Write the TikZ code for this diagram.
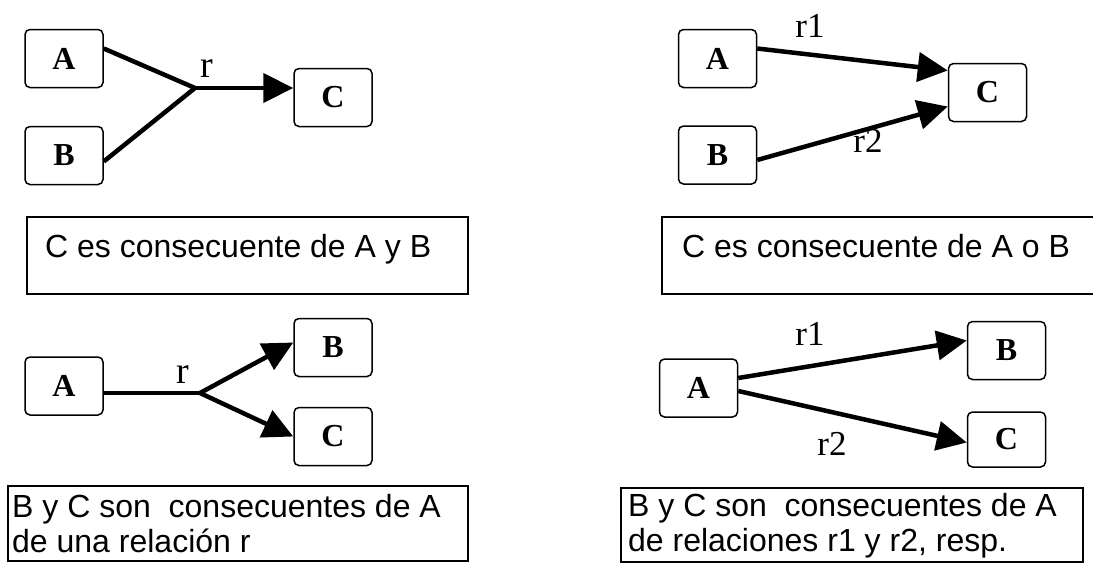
\documentclass[tikz,border=0pt]{standalone}
\usepackage{fontspec}
\setmainfont{Liberation Serif}
\setsansfont{Liberation Sans}
\usetikzlibrary{arrows.meta,positioning}

\tikzset{
  caja/.style={draw,rounded corners=5pt,line width=1.5pt,inner sep=0pt,
               minimum width=78pt,minimum height=58pt,
               font=\fontsize{32}{32}\selectfont\bfseries},
  nota/.style={draw,line width=1.5pt,inner sep=0pt,anchor=north west},
  texto/.style={inner sep=0pt,align=left,
               font=\sffamily\fontsize{32}{35}\selectfont},
  etiq/.style={inner sep=0pt,anchor=base,font=\fontsize{35}{35}\selectfont},
  linea/.style={line width=4.5pt},
  flecha/.style={line width=4.5pt,-{Triangle[length=30pt,width=29pt]}}
}

\begin{document}
\begin{tikzpicture}[x=1pt,y=-1pt]
      \clip (0,0) rectangle (1093,563);
      % y: A y B -> C
      \node[caja] (a1) at (64,58.5) {A};
      \node[caja] (b1) at (64,155.5) {B};
      \node[caja] (c1) at (333,97.5) {C};
      \coordinate (j1) at (195,88);
      \node[etiq,font=\fontsize{38}{38}\selectfont] (r1) at (207,77) {r};
      \draw[linea] ([yshift=10pt]a1.east) -- (j1);
      \draw[linea] ([yshift=-6pt]b1.east) -- (j1);
      \draw[flecha] (j1) -- (c1.west |- j1);
      \node[nota,minimum width=441pt,minimum height=77pt] (n1) at (26,216) {};
      \node[texto,anchor=base west] (t1) at (45,257) {C es consecuente de A y B};

      % o: A o B -> C
      \node[caja] (a2) at (717.5,58.5) {A};
      \node[caja] (b2) at (717.5,155) {B};
      \node[caja] (c2) at (987.5,92.5) {C};
      \draw[flecha] ([yshift=10pt]a2.east) -- ([yshift=22pt]c2.west);
      \draw[flecha] ([yshift=-5pt]b2.east) -- ([yshift=-14pt]c2.west);
      \node[etiq] (r21) at (810,37) {r1};
      \node[etiq] (r22) at (868,152) {r2};
      \node[nota,minimum width=450pt,minimum height=77pt] (n2) at (661,216) {};
      \node[texto,anchor=base west] (t2) at (682,257) {C es consecuente de A o B};

      % A -> B y C, una relacion
      \node[caja] (a3) at (64,386) {A};
      \node[caja] (b3) at (333,347.5) {B};
      \node[caja] (c3) at (333,436.5) {C};
      \coordinate (j3) at (200,393);
      \node[etiq,font=\fontsize{38}{38}\selectfont] (r3) at (183,383) {r};
      \draw[linea] (a3.east |- j3) -- (j3);
      \draw[flecha] (j3) -- ([yshift=5pt]b3.west);
      \draw[flecha] (j3) -- (c3.west);
      \node[nota,minimum width=460pt,minimum height=75pt] (n3) at (7,485) {};
      \node[texto,anchor=north west] (t3) at (12,494.5)
           {B y C son \ consecuentes de A\\de una relación r};

      % A -> B y C, dos relaciones
      \node[caja] (a4) at (698.5,388) {A};
      \node[caja] (b4) at (1006.5,350.5) {B};
      \node[caja,minimum height=55pt] (c4) at (1006.5,439.5) {C};
      \draw[flecha] ([yshift=10pt]a4.east) -- ([yshift=10pt]b4.west);
      \draw[flecha] ([yshift=-3pt]a4.east) -- ([yshift=-3pt]c4.west);
      \node[etiq] (r41) at (810,345) {r1};
      \node[etiq] (r42) at (832,455) {r2};
      \node[nota,minimum width=462pt,minimum height=74pt] (n4) at (620,487) {};
      \node[texto,anchor=north west] (t4) at (628,493.5)
           {B y C son \ consecuentes de A\\de relaciones r1 y r2, resp.};
    \end{tikzpicture}
\end{document}
